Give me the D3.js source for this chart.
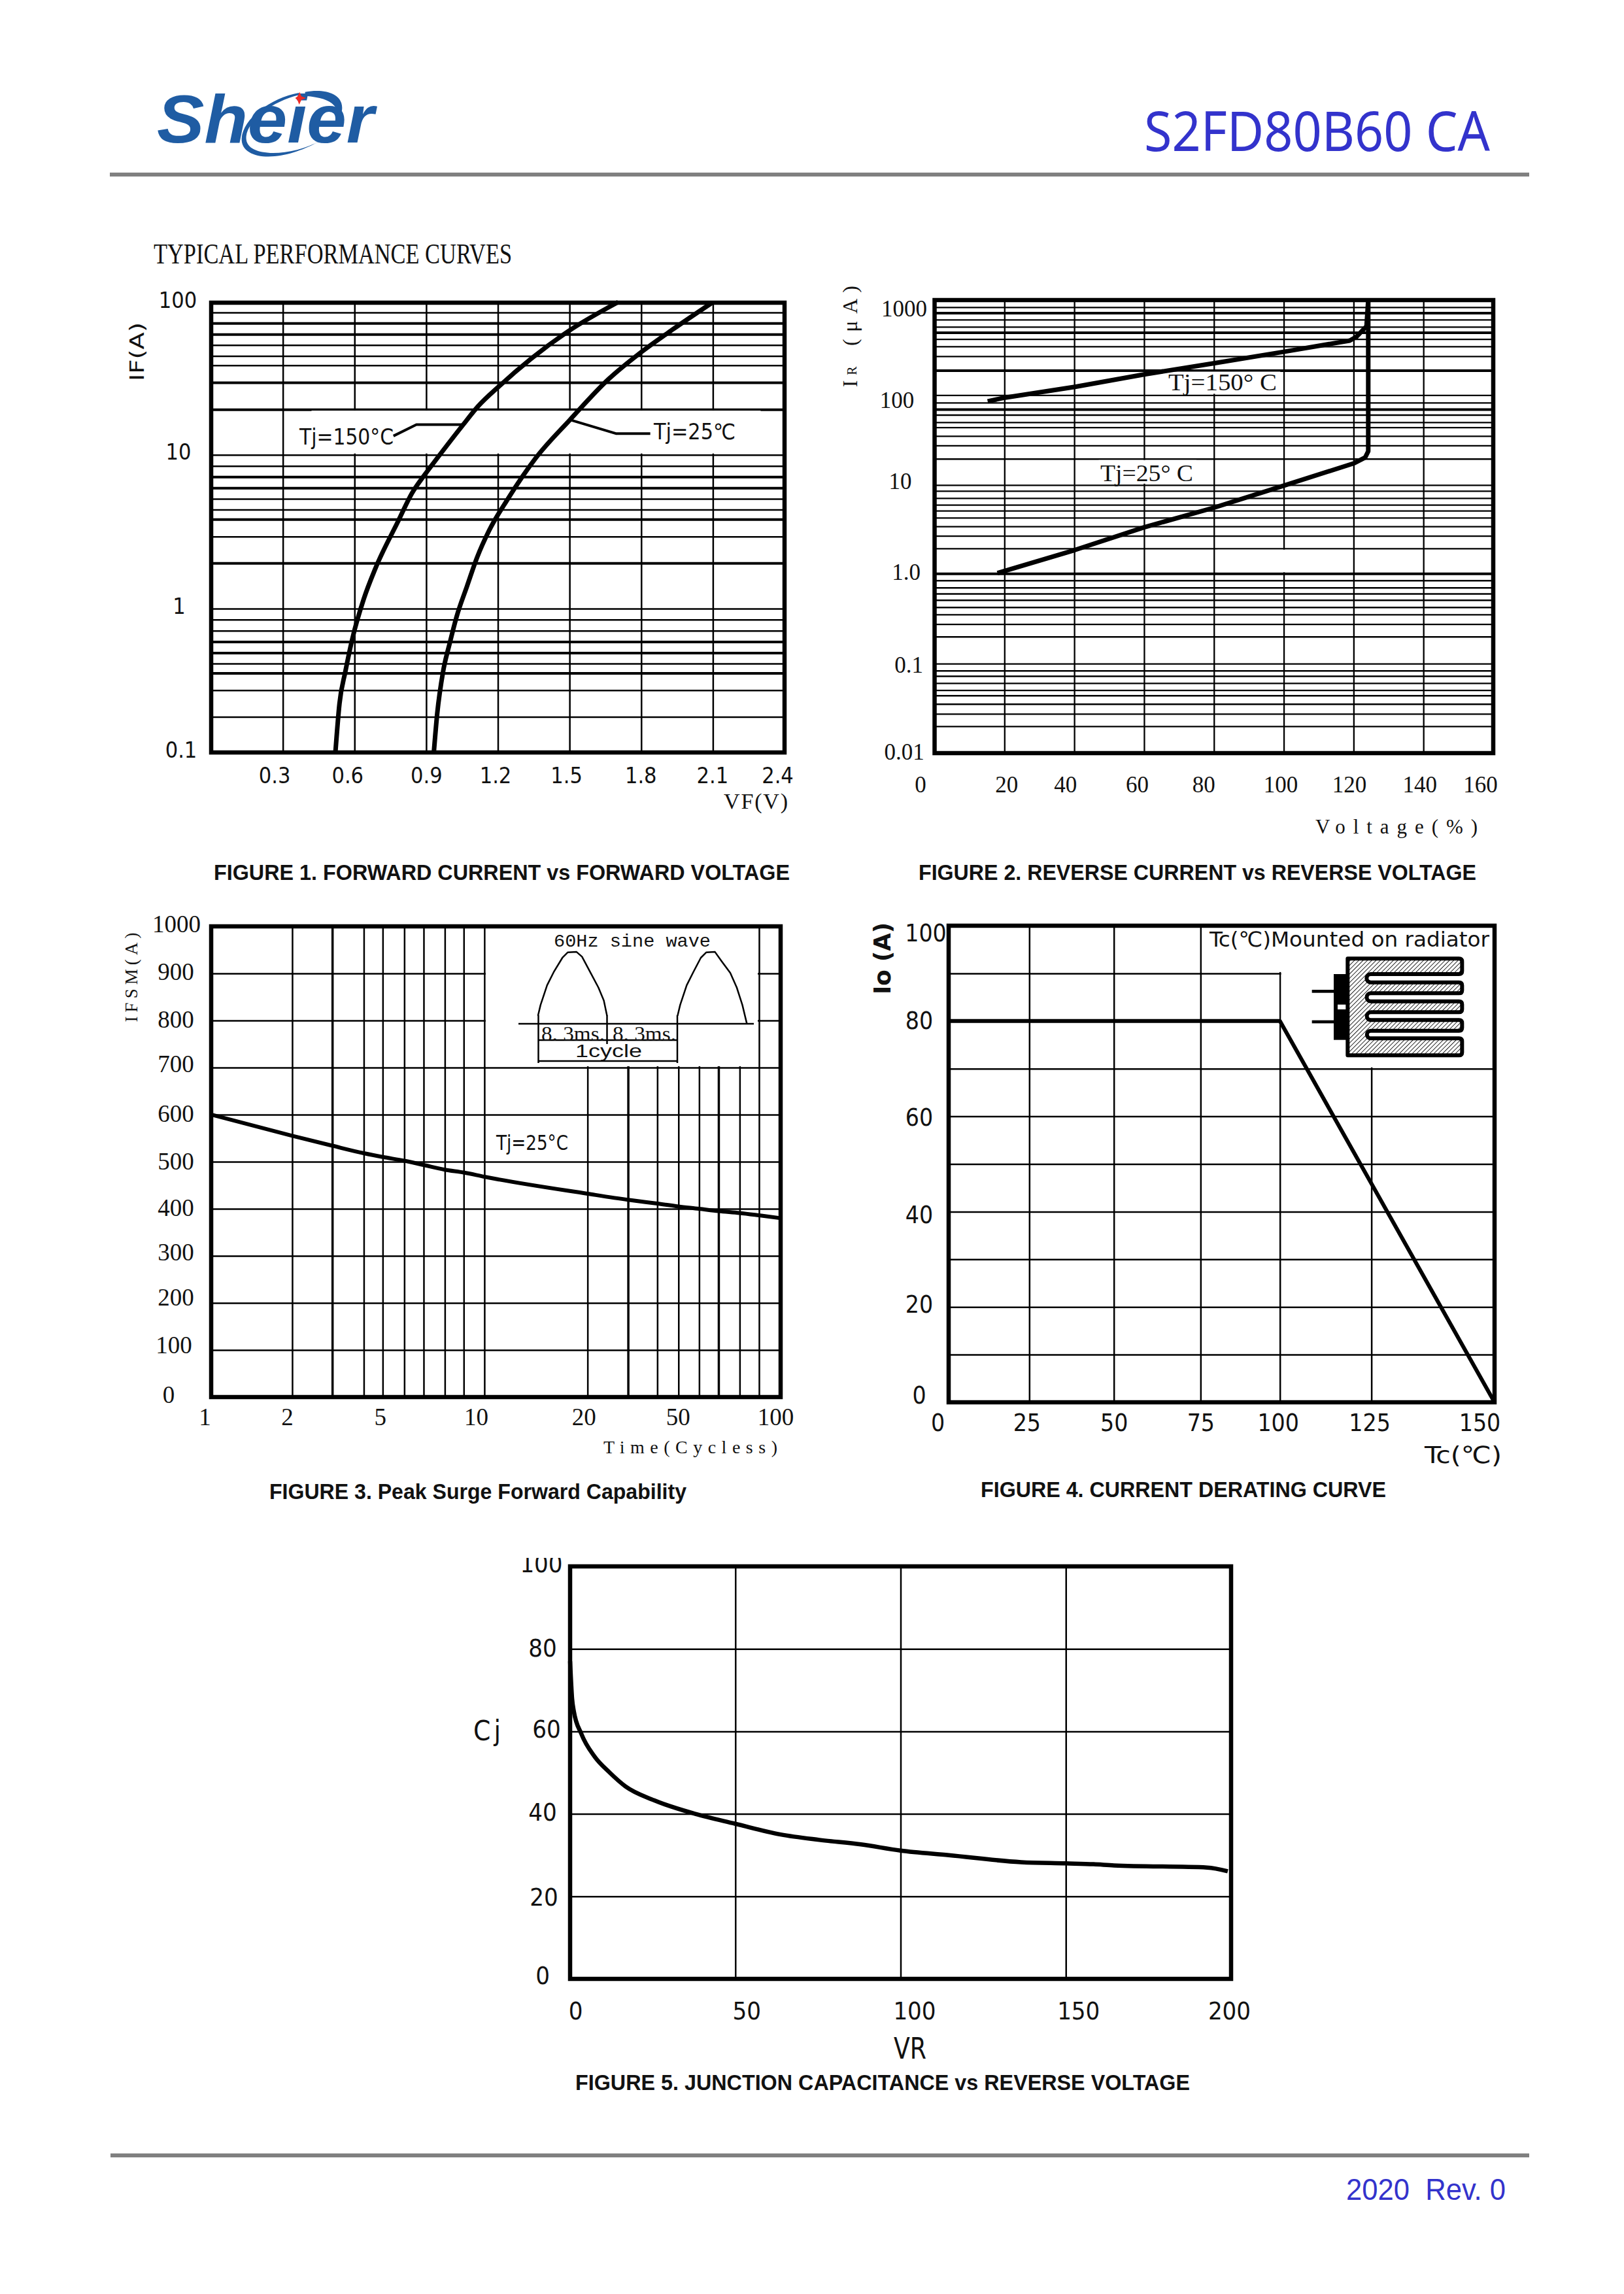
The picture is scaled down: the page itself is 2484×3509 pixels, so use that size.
<!DOCTYPE html>
<html>
<head>
<meta charset="utf-8">
<script src="https://cdnjs.cloudflare.com/ajax/libs/d3/7.8.5/d3.min.js"></script>
<style>
html,body{margin:0;padding:0;background:#fff}
svg{display:block}
</style>
</head>
<body>
<div id="c"></div>
<script>
// ---------- Figure 1 data ----------
const fig1GridX = [0.3,0.6,0.9,1.2,1.5,1.8,2.1];
const fig1GridY = [0.177,0.271,0.357,0.415,0.494,0.59,0.703,0.84,1,1.98,2.94,3.81,4.4,5.18,6.1,7.2,8.47,10,19.9,29.9,38.8,44.6,52.7,62,73.4,86.2];
const fig1ThickY = [0.357,0.494,0.59,1.98,3.81,6.1,7.2,19.9,29.9,62,73.4];
const fig1TickX = [0.3,0.6,0.9,1.2,1.5,1.8,2.1,2.4];
const fig1TickXLabels = ["0.3","0.6","0.9","1.2","1.5","1.8","2.1","2.4"];
const fig1TickY = [0.1,1,10,100];
const fig1TickYLabels = ["0.1","1","10","100"];
const fig1Vf150 = [0.52,0.537,0.562,0.591,0.639,0.687,0.783,0.84,0.898,0.946,1.051,1.118,1.205,1.339,1.493,1.704];
const fig1If150 = [0.1,0.218,0.367,0.618,1.16,1.82,3.71,5.61,7.57,9.5,15.5,20.9,28.2,42.8,64.6,101];
const fig1Vf25 = [0.932,0.946,0.971,0.998,1.028,1.071,1.113,1.163,1.243,1.358,1.502,1.665,1.79,1.934,2.097];
const fig1If25 = [0.1,0.185,0.367,0.57,0.887,1.4,2.15,3.21,5.2,9.5,17,31.6,46,67,100];

// ---------- Figure 2 data ----------
const fig2GridX = [20,40,60,80,100,120,140];
const fig2GridY = [0.02,0.0275,0.0355,0.0442,0.0506,0.0608,0.0729,0.0838,0.1002,0.201,0.277,0.356,0.429,0.516,0.608,0.711,0.855,1.02,1.95,2.69,3.44,4.3,5.15,6,7.13,8.58,9.98,19.6,27.6,35.3,44,50.2,60.8,70,83.2,101,191,275,354,427,508,587,706,841,972];
const fig2ThickY = [1.02,70,191,508,841];
const fig2TickX = [0,20,40,60,80,100,120,140,160];
const fig2TickY = [0.01,0.1,1,10,100,1000];
const fig2TickYLabels = ["0.01","0.1","1.0","10","100","1000"];
const fig2V150 = [15.2,20.2,40.2,60,80.2,100,118.9,120.8,123.7,124.2];
const fig2I150 = [86,94.7,125,172,230,308,411,453,594,1167];
const fig2V25 = [18,40.2,60,80.2,100,120.2,123.3,124.2,124.2];
const fig2I25 = [1.03,1.87,3.35,5.59,9.8,17.5,20.2,23.8,1167];

// ---------- Figure 3 data ----------
const fig3Cycles = [1,2,3,4,5,6,7,8,9,10,20,30,40,50,60,70,80,90,100];
const fig3Ifsm = [600,555,534,518,510,502,493,483,477,468,432,419,411,405,400,395,391,386,380];
const fig3GridY = [100,200,300,400,500,600,700,800,900];
const fig3ThickX = [3,30,70];
const fig3TickX = [1,2,5,10,20,50,100];
const fig3TickY = [0,100,200,300,400,500,600,700,800,900,1000];
const sineMs1 = [-0.05,0.26,1.04,1.82,2.87,3.52,4.56,5.21,6.25,7.17,7.82,8.2];
const sineAmp1 = [0.11,0.26,0.53,0.71,0.91,0.985,0.99,0.925,0.70,0.50,0.32,0.11];
const sineMs2 = [16.63,16.94,17.72,18.5,19.41,20.07,21.1,21.9,22.93,23.7,24.37,24.9];
const sineAmp2 = [0.11,0.26,0.53,0.71,0.91,0.985,0.99,0.86,0.70,0.50,0.26,0.006];

// ---------- Figure 4 data ----------
const fig4Tc = [0,100,150];
const fig4Io = [80,80,0];
const fig4TickX = [0,25,50,75,100,125,150];
const fig4GridX = [25,50,75,100,125];
const fig4GridY = [10,20,30,40,50,60,70,80,90];
const fig4TickY = [0,20,40,60,80,100];

// ---------- Figure 5 data ----------
const fig5Vr = [0,0.6,1.1,3.4,7.4,12,16.7,25.4,37.9,50,63.7,75.4,88,100,114.6,136.5,150,158.4,164.6,192.8,199];
const fig5Cj = [77,68,65,59.4,53.9,50,46.7,43.3,40,37.6,35,33.7,32.6,31.1,30,28.3,28,27.8,27.5,27,26.1];
const fig5GridX = [50,100,150];
const fig5GridY = [20,40,60,80];
const fig5TickX = [0,50,100,150,200];
const fig5TickY = [0,20,40,60,80,100];

// ---------- Layout (kept apart from the data) ----------
const W = 2484, H = 3509;
const box1 = {l:323,r:1200,t:463,b:1151};
const box2 = {l:1429.5,r:2284,t:459,b:1152};
const box3 = {l:323,r:1194,t:1417,b:2137};
const box4 = {l:1451,r:2286,t:1416,b:2145};
const box5 = {l:872,r:1883,t:2396,b:3027};
const fig3KnotPos = [0,.1423,.2126,.2680,.3012,.3391,.3731,.4103,.4435,.4798,.6609,.7320,.7834,.8206,.8569,.8909,.9281,.9621,1];
const fig4KnotPos = [0,.1477,.3026,.4615,.6068,.7744,1];
const serif = "'Liberation Serif'", cond = "'DejaVu Sans Condensed'", sans = "'Liberation Sans'", mono = "'Liberation Mono'", noto = "'Noto Sans'";

const svg = d3.select("#c").append("svg").attr("width",W).attr("height",H).attr("viewBox",`0 0 ${W} ${H}`);
svg.append("rect").attr("width",W).attr("height",H).attr("fill","#fff");
const defs = svg.append("defs");

function txt(x,y,s,o={}){
  const t = svg.append("text").attr("x",x).attr("y",y).attr("dy","0.35em").text(s)
    .attr("font-family",o.family||sans).attr("font-size",o.size||30)
    .attr("font-weight",o.weight||"normal").attr("font-style",o.italic?"italic":"normal")
    .attr("fill",o.fill||"#111").attr("text-anchor",o.anchor||"start");
  if(o.len){t.attr("textLength",o.len).attr("lengthAdjust",o.adjust||"spacingAndGlyphs");}
  if(o.rotate!==undefined){t.attr("transform",`rotate(${o.rotate},${x},${y})`);}
  return t;
}
function grid(b,x,y,gx,gy,w,thickY=[],thickX=[]){
  if(gx.length){
    svg.append("g").attr("transform",`translate(0,${b.b})`)
      .call(d3.axisBottom(x).tickValues(gx).tickSize(-(b.b-b.t)).tickFormat(""))
      .call(g=>g.select(".domain").remove())
      .selectAll("line").attr("stroke","#000").attr("stroke-width",d=>thickX.includes(d)?3.5:w);
  }
  svg.append("g").attr("transform",`translate(${b.l},0)`)
    .call(d3.axisLeft(y).tickValues(gy).tickSize(-(b.r-b.l)).tickFormat(""))
    .call(g=>g.select(".domain").remove())
    .selectAll("line").attr("stroke","#000").attr("stroke-width",d=>thickY.includes(d)?4:w);
}
function mask(x0,x1,y0,y1,inset=2){
  svg.append("rect").attr("x",x0).attr("width",x1-x0).attr("y",y0+inset).attr("height",y1-y0-2*inset).attr("fill","#fff");
}
function frame(b,w){
  svg.append("rect").attr("x",b.l).attr("y",b.t).attr("width",b.r-b.l).attr("height",b.b-b.t)
    .attr("fill","none").attr("stroke","#000").attr("stroke-width",w);
}
function curve(xs,ys,x,y,w,cv){
  const pts = xs.map((d,i)=>[d,ys[i]]);
  svg.append("path").attr("d",d3.line().x(d=>x(d[0])).y(d=>y(d[1])).curve(cv||d3.curveLinear)(pts))
    .attr("fill","none").attr("stroke","#000").attr("stroke-width",w).attr("stroke-linejoin","round");
}
function axisX(x,vals,labels,yPos,nudge,o){
  svg.append("g").attr("transform",`translate(0,${yPos})`)
    .call(d3.axisBottom(x).tickValues(vals).tickSize(0).tickPadding(0).tickFormat((d,i)=>labels[i]))
    .call(g=>g.select(".domain").remove())
    .selectAll("text").attr("dy","0.35em").attr("y",0).attr("x",(d,i)=>nudge[i])
    .attr("font-family",o.family).attr("font-size",o.size).attr("fill","#111");
}
function axisY(y,vals,labels,xOff,nudge,o){
  const g = svg.append("g");
  if(o.clip) g.attr("clip-path",`url(#${o.clip})`);
  g.call(d3.axisLeft(y).tickValues(vals).tickSize(0).tickPadding(0).tickFormat((d,i)=>labels[i]))
    .call(g=>g.select(".domain").remove())
    .selectAll("text").attr("text-anchor","middle").attr("dy","0.35em").attr("x",(d,i)=>xOff[i]).attr("y",(d,i)=>nudge[i])
    .attr("font-family",o.family).attr("font-size",o.size).attr("fill","#111");
}

// ---------- Header / footer ----------
const logoBlue = "#1f5ca3";
txt(240,182,"Sheier",{family:sans,weight:"bold",italic:true,size:104,fill:logoBlue,len:332});
const logo = svg.append("g").attr("transform","translate(180,100) scale(0.3333)");
logo.append("path").attr("fill",logoBlue)
  .attr("d","M832,126 C700,150 575,245 569,335 C566,400 640,425 720,417 C800,410 880,375 930,345 C860,385 770,405 700,402 C630,398 585,375 590,325 C600,250 710,165 832,136 Z");
logo.append("path").attr("fill",logoBlue)
  .attr("d","M860,122 C950,105 1030,130 1030,195 C1030,215 1022,235 1010,250 C1015,200 1000,150 860,140 Z");
logo.append("path").attr("fill","#ee2a24")
  .attr("d","M835,122 L843,142 L864,150 L843,158 L833,180 L825,160 L815,150 L826,142 Z");
txt(2279,202,"S2FD80B60 CA",{family:noto,size:84,fill:"#3333cc",anchor:"end",len:529});
svg.append("rect").attr("x",168).attr("y",264).attr("width",2171).attr("height",6).attr("fill","#808080");
svg.append("rect").attr("x",169).attr("y",3294).attr("width",2170).attr("height",6).attr("fill","#808080");
txt(2059,3349,"2020  Rev. 0",{family:sans,size:46,fill:"#3333cc",len:244}).style("white-space","pre");
txt(235,388,"TYPICAL PERFORMANCE CURVES",{family:serif,size:44,len:548});

// ---------- Figure 1 ----------
(function(){
  const b = box1;
  const x = d3.scaleLinear().domain([0,2.4]).range([b.l,b.r]);
  const y = d3.scaleLog().domain([0.1,1,10,100]).range([b.b,931,695.7,b.t]);
  grid(b,x,y,fig1GridX,fig1GridY,2.5,fig1ThickY);
  mask(x(0.42),x(2.3),y(19.9),y(10));
  frame(b,6.5);
  curve(fig1Vf150,fig1If150,x,y,7,d3.curveMonotoneX);
  curve(fig1Vf25,fig1If25,x,y,7,d3.curveMonotoneX);
  curve([0.763,0.859,1.061],[13.3,15.8,15.8],x,y,4);
  curve([1.502,1.694,1.838],[17,13.8,13.8],x,y,4);
  axisX(x,fig1TickX,fig1TickXLabels,1186,[-13,-11,0,-4,-5,-1,-1,-11],{family:cond,size:34});
  axisY(y,fig1TickY,fig1TickYLabels,[277,274,273,272],[-4,-4,-5,-4],{family:cond,size:34});
  txt(458,668,"Tj=150°C",{family:cond,size:33,len:144});
  txt(1000,660,"Tj=25℃",{family:cond,size:33,len:125});
  txt(1156,1225,"VF(V)",{family:serif,size:34,anchor:"middle",len:98,adjust:"spacing"});
  txt(209,538,"IF(A)",{family:cond,size:30,anchor:"middle",rotate:-90,len:90});
  txt(327,1334,"FIGURE 1. FORWARD CURRENT vs FORWARD VOLTAGE",{family:sans,weight:"bold",size:33,len:881});
})();

// ---------- Figure 2 ----------
(function(){
  const b = box2;
  const x = d3.scaleLinear().domain([0,160]).range([b.l,b.r]);
  const y = d3.scaleLog().domain([0.01,1167]).range([b.b,b.t]);
  grid(b,x,y,fig2GridX,fig2GridY,2.3,fig2ThickY);
  mask(x(67),x(99),y(191),y(101));
  mask(x(47),x(75),y(19.6),y(9.98));
  mask(x(81),x(119),y(1.95),y(1.02));
  frame(b,6.5);
  curve(fig2V150,fig2I150,x,y,7);
  curve(fig2V25,fig2I25,x,y,7);
  axisX(x,fig2TickX,fig2TickX.map(String),1200,[-22,3,-14,-11,-16,-5,-7,-6,-20],{family:serif,size:35});
  axisY(y,fig2TickY,fig2TickYLabels,[1383,1390,1386,1377,1372,1383],[-3,1,-4,-6,6,3],{family:serif,size:35});
  txt(1787,584,"Tj=150° C",{family:serif,size:36,len:166});
  txt(1683,723,"Tj=25° C",{family:serif,size:36,len:142});
  txt(2136,1264,"Voltage(%)",{family:serif,size:31,anchor:"middle",len:248,adjust:"spacing"});
  txt(1300,587,"I",{family:serif,size:32,anchor:"middle",rotate:-90});
  txt(1303,567,"R",{family:serif,size:20,anchor:"middle",rotate:-90});
  txt(1300,483,"( μ A )",{family:serif,size:32,anchor:"middle",rotate:-90,len:92,adjust:"spacing"});
  txt(1405,1334,"FIGURE 2. REVERSE CURRENT vs REVERSE VOLTAGE",{family:sans,weight:"bold",size:33,len:853});
})();

// ---------- Figure 3 ----------
(function(){
  const b = box3;
  const x = d3.scaleLog().domain(fig3Cycles).range(fig3KnotPos.map(f=>b.l+f*(b.r-b.l)));
  const y = d3.scaleLinear().domain([0,1000]).range([b.b,b.t]);
  grid(b,x,y,fig3Cycles.slice(1,-1),fig3GridY,2.5,[],fig3ThickX);
  mask(x(10)+2,x(90)-2,y(1000),y(700));
  frame(b,6.5);
  curve(fig3Cycles,fig3Ifsm,x,y,6,d3.curveMonotoneX);
  axisX(x,fig3TickX,fig3TickX.map(String),2167,[-10,-8,-4,-13,-6,-1,-8],{family:serif,size:37});
  axisY(y,fig3TickY,fig3TickY.map(String),[258,266,269,269,269,269,269,269,269,269,270],[-4,-8,-9,-6,-2,-1,-2,-6,-2,-3,-4],{family:serif,size:37});
  txt(759,1748,"Tj=25°C",{family:cond,size:32,len:110});
  txt(1056,2213,"Time(Cycless)",{family:serif,size:28,anchor:"middle",len:266,adjust:"spacing"});
  txt(201,1495,"IFSM(A)",{family:serif,size:27,anchor:"middle",rotate:-90,len:137,adjust:"spacing"});
  txt(412,2281,"FIGURE 3. Peak Surge Forward Capability",{family:sans,weight:"bold",size:33,len:638});

  // inset: the half sine wave sketch
  const sx = d3.scaleLinear().domain([0,16.6]).range([823.5,1036]);
  const sy = d3.scaleLinear().domain([0,1]).range([1566,1455]);
  const lw = 2.5;
  curve(sineMs1,sineAmp1,sx,sy,lw);
  curve(sineMs2,sineAmp2,sx,sy,lw);
  const seg = (a,c,d,e)=>svg.append("line").attr("x1",a).attr("y1",c).attr("x2",d).attr("y2",e).attr("stroke","#000").attr("stroke-width",lw);
  seg(793,1566,1153,1566);
  seg(823.5,1553,823.5,1626); seg(928.5,1553,928.5,1597); seg(1036,1553,1036,1626);
  seg(823.5,1591,1036,1591); seg(823.5,1623,1036,1623);
  txt(847,1438,"60Hz sine wave",{family:mono,size:28,len:240});
  txt(828,1581,"8. 3ms.",{family:serif,size:31,len:97});
  txt(937,1581,"8. 3ms.",{family:serif,size:31,len:97});
  txt(880,1607,"1cycle",{family:sans,size:28,len:102});
})();

// ---------- Figure 4 ----------
(function(){
  const b = box4;
  const x = d3.scaleLinear().domain(fig4TickX).range(fig4KnotPos.map(f=>b.l+f*(b.r-b.l)));
  const y = d3.scaleLinear().domain([0,100]).range([b.b,b.t]);
  grid(b,x,y,fig4GridX,fig4GridY,2.5);
  mask(x(100)+2,x(150),y(100),y(70));
  mask(x(75)+2,x(100)+3,y(100),y(90));
  frame(b,6.5);
  curve(fig4Tc,fig4Io,x,y,6);
  axisX(x,fig4TickX,fig4TickX.map(String),2176,[-17,-4,0,0,-3,-3,-23],{family:cond,size:37});
  axisY(y,fig4TickY,fig4TickY.map(String),[1406,1406,1406,1406,1406,1416],[-11,-5,4,1,-1,11],{family:cond,size:37});
  txt(2238,2225,"Tc(℃)",{family:cond,size:36,anchor:"middle",len:118});
  txt(1350,1466,"Io (A)",{family:cond,weight:"bold",size:35,anchor:"middle",rotate:-90,len:110});
  txt(1850,1437,"Tc(℃)Mounted on radiator",{family:cond,size:32,len:428});
  txt(1500,2278,"FIGURE 4. CURRENT DERATING CURVE",{family:sans,weight:"bold",size:33,len:620});

  // heat-sink sketch
  defs.append("pattern").attr("id","hatch").attr("width",14).attr("height",14).attr("patternUnits","userSpaceOnUse")
    .attr("patternTransform","rotate(45)")
    .append("line").attr("x1",0).attr("y1",0).attr("x2",0).attr("y2",14).attr("stroke","#000").attr("stroke-width",5);
  const s = svg.append("g").attr("transform","translate(1830,1400) scale(0.33333)");
  s.append("path").attr("fill","#fff").attr("stroke","none")
    .attr("d","M694,199 H1219 V643 H694 Z");
  s.append("path").attr("fill","url(#hatch)").attr("stroke","#000").attr("stroke-width",18).attr("stroke-linejoin","round")
    .attr("d","M694,199 H1205 Q1219,199 1219,213 V256 Q1219,270 1205,270 H800 A19,19 0 0 0 800,308 H1205 Q1219,308 1219,322 V344 Q1219,358 1205,358 H800 A18,18 0 0 0 800,395 H1205 Q1219,395 1219,409 V431 Q1219,445 1205,445 H800 A18,18 0 0 0 800,481 H1205 Q1219,481 1219,495 V516 Q1219,530 1205,530 H800 A17,17 0 0 0 800,565 H1205 Q1219,565 1219,579 V629 Q1219,643 1205,643 H694 Z");
  s.append("rect").attr("x",630).attr("y",270).attr("width",60).attr("height",302).attr("fill","#000");
  s.append("rect").attr("x",648).attr("y",410).attr("width",37).attr("height",22).attr("fill","#fff");
  s.append("rect").attr("x",530).attr("y",342).attr("width",100).attr("height",14).attr("fill","#000");
  s.append("rect").attr("x",530).attr("y",482).attr("width",100).attr("height",14).attr("fill","#000");
})();

// ---------- Figure 5 ----------
(function(){
  const b = box5;
  const x = d3.scaleLinear().domain([0,200]).range([b.l,b.r]);
  const y = d3.scaleLinear().domain([0,100]).range([b.b,b.t]);
  defs.append("clipPath").attr("id","clipTop").append("rect").attr("x",700).attr("y",2383).attr("width",300).attr("height",800);
  grid(b,x,y,fig5GridX,fig5GridY,2.5);
  frame(b,6.5);
  curve(fig5Vr,fig5Cj,x,y,6.5,d3.curveMonotoneX);
  axisX(x,fig5TickX,fig5TickX.map(String),3076,[8,17,21,19,-3],{family:cond,size:38});
  axisY(y,fig5TickY,fig5TickY.map(String),[830,832,830,836,830,828],[-6,0,-3,-4,-2,-5],{family:cond,size:38,clip:"clipTop"});
  txt(1392,3134,"VR",{family:cond,size:44,anchor:"middle",len:50});
  txt(745,2647,"Cj",{family:cond,size:42,anchor:"middle",len:42,adjust:"spacing"});
  txt(880,3185,"FIGURE 5. JUNCTION CAPACITANCE vs REVERSE VOLTAGE",{family:sans,weight:"bold",size:33,len:940});
})();
</script>
</body>
</html>
